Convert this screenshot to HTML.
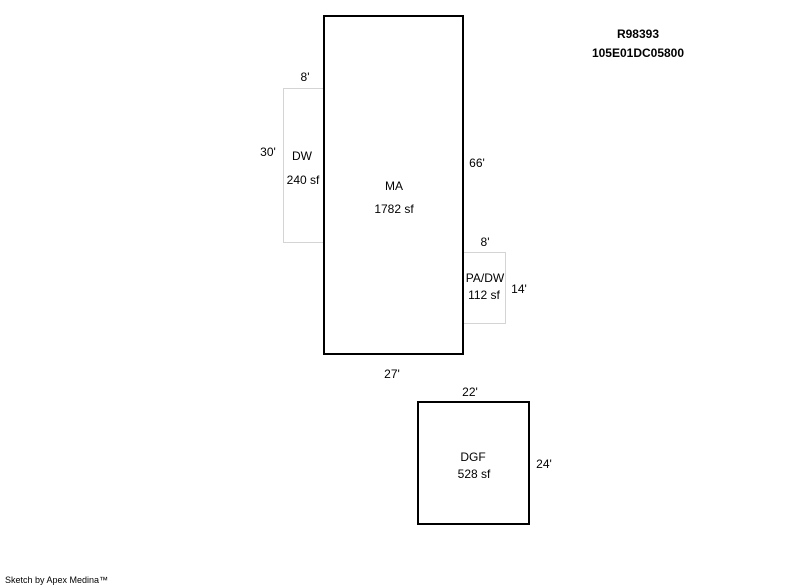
<!DOCTYPE html>
<html><head><style>html,body{margin:0;padding:0;background:#fff}svg{display:block}</style></head>
<body>
<svg width="800" height="587" xmlns="http://www.w3.org/2000/svg" font-family="Liberation Sans, Arial, sans-serif" font-size="12" fill="#000">
<rect x="283.5" y="88.5" width="40" height="154" fill="none" stroke="#aaa" stroke-width="1" stroke-dasharray="1,1"/>
<rect x="463.5" y="252.5" width="42" height="71" fill="none" stroke="#aaa" stroke-width="1" stroke-dasharray="1,1"/>
<rect x="324" y="16" width="139" height="338" fill="none" stroke="#000" stroke-width="2"/>
<rect x="418" y="402" width="111" height="122" fill="none" stroke="#000" stroke-width="2"/>
<g text-anchor="middle">
<text x="638" y="38" font-weight="bold">R98393</text>
<text x="638" y="57" font-weight="bold">105E01DC05800</text>
<text x="305" y="81">8'</text>
<text x="268" y="156">30'</text>
<text x="302" y="160">DW</text>
<text x="303" y="184">240 sf</text>
<text x="394" y="190">MA</text>
<text x="394" y="213">1782 sf</text>
<text x="477" y="167">66'</text>
<text x="485" y="246">8'</text>
<text x="485" y="282">PA/DW</text>
<text x="484" y="299">112 sf</text>
<text x="519" y="293">14'</text>
<text x="392" y="378">27'</text>
<text x="470" y="396">22'</text>
<text x="473" y="461">DGF</text>
<text x="474" y="478">528 sf</text>
<text x="544" y="468">24'</text>
</g>
<text x="5" y="583" font-size="9">Sketch by Apex Medina™</text>
</svg>
</body></html>
